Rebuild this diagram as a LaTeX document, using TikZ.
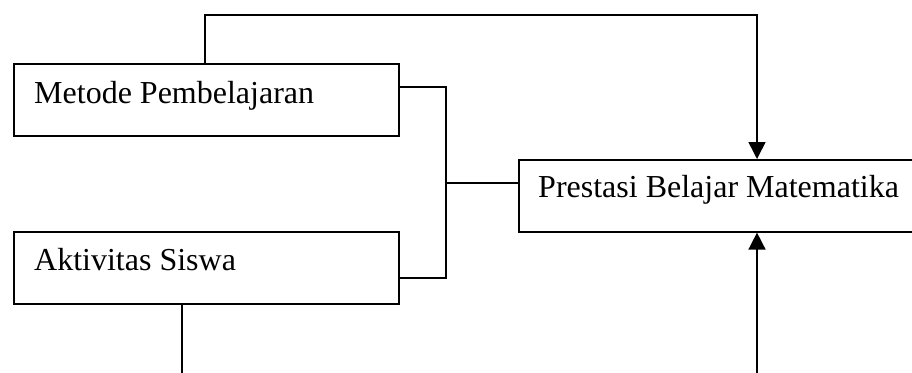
\documentclass[tikz,border=0pt]{standalone}
\usepackage{fontspec}
\setmainfont{Liberation Serif}
\usetikzlibrary{arrows.meta}
\begin{document}
\begin{tikzpicture}[x=1pt,y=-1pt,
  box/.style={draw, line width=1.6pt, rectangle, inner sep=0pt, anchor=north west},
  lbl/.style={anchor=base west, inner sep=0pt, font=\fontsize{32}{38}\selectfont},
  conn/.style={line width=1.6pt},
  arr/.style={line width=1.6pt, -{Triangle[length=17pt,width=17pt]}}]
\useasboundingbox (0,0) rectangle (912,372);
\clip (0,0) rectangle (912,372);
\node[box, minimum width=385pt, minimum height=72pt] (m) at (13,63) {};
\node[lbl] (mt) at (34,103) {Metode Pembelajaran};
\node[box, minimum width=385pt, minimum height=72pt] (a) at (13,231) {};
\node[lbl] (at) at (34,270) {Aktivitas Siswa};
\node[box, minimum width=410pt, minimum height=72pt] (p) at (518,159) {};
\node[lbl] (pt) at (538,197) {Prestasi Belajar Matematika};
\coordinate (t1) at (205,15);
\coordinate (t2) at (757,15);
\coordinate (j) at (446,183);
\coordinate (b1) at (182,380);
\coordinate (b2) at (757,380);
\draw[arr] (m.north -| t1) -- (t1) -- (t2) -- (p.north -| t2);
\draw[conn] (m.east |- 0,87) -- (446,87) -- (446,278) -- (a.east |- 0,278);
\draw[conn] (j) -- (p.west |- j);
\draw[conn] (a.south -| b1) -- (b1);
\draw[arr] (b2) -- (p.south -| b2);
\end{tikzpicture}
\end{document}
